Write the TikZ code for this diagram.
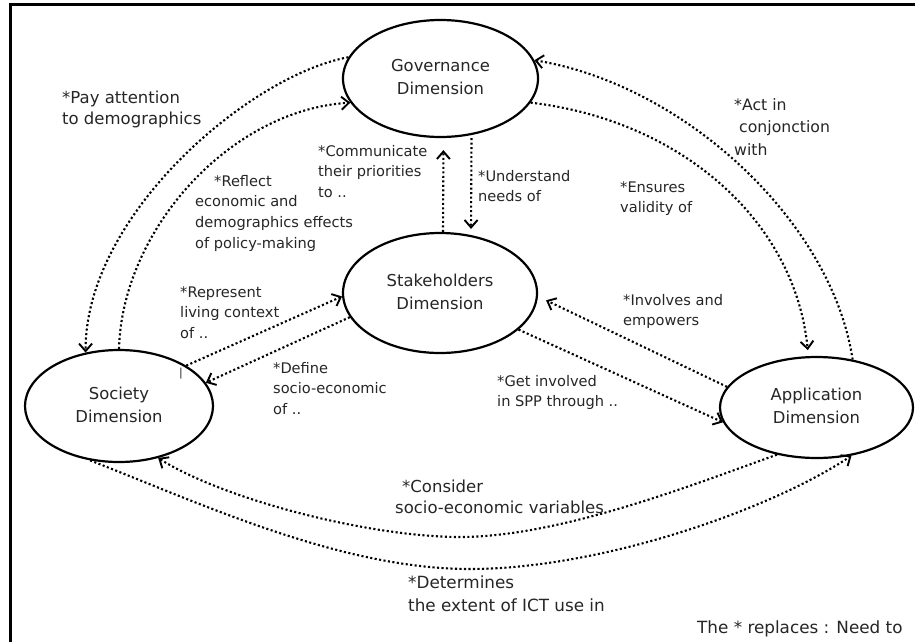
\documentclass[tikz,border=0pt]{standalone}
\usepackage{fontspec}
\setmainfont{DejaVu Sans}
\usetikzlibrary{arrows.meta, shapes.geometric}

\definecolor{txt}{HTML}{262626}

% multi-line labels: baseline of the node is the baseline of the first line
\newcommand\txtlines[1]{\begin{tabular}[t]{@{}l@{}}#1\end{tabular}}
\newcommand\dimtext[1]{\raisebox{-4.5pt}{\begin{tabular}{@{}c@{}}#1\end{tabular}}}

\begin{document}
\begin{tikzpicture}[x=1pt, y=-1pt,
  dim/.style={ellipse, draw=black, line width=2.2pt, inner sep=0pt,
    text=txt, font=\fontsize{16.4}{23}\selectfont},
  lbl/.style={inner sep=0pt, anchor=base west, text=txt},
  big/.style={lbl, font=\fontsize{16.5}{21.5}\selectfont},
  mid/.style={lbl, font=\fontsize{14.6}{20.8}\selectfont},
  flow/.style={line width=2.1pt, dash pattern=on 2.1pt off 2.4pt,
    -{Straight Barb[length=7.5pt,width=13pt,line width=1.9pt]}},
]
\useasboundingbox (0,0) rectangle (915,642);
\fill[white] (0,0) rectangle (915,642);

% outer frame (top and left edges)
\draw[line width=2.8pt, line join=miter] (10.3,646) -- (10.3,4.3) -- (919,4.3);

% the four dimensions
\node[dim, minimum width=195pt, minimum height=117pt] (gov) at (440.5,78.5)
  {\dimtext{Governance\\Dimension}};
\node[dim, minimum width=194pt, minimum height=120pt] (stk) at (440,293)
  {\dimtext{Stakeholders\\Dimension}};
\node[dim, minimum width=188pt, minimum height=112pt] (soc) at (119,406)
  {\dimtext{Society\\Dimension}};
\node[dim, minimum width=193pt, minimum height=101pt] (app) at (816.5,407.5)
  {\dimtext{Application\\Dimension}};

% governance <-> society
\draw[flow] (gov.167.5) .. controls (250,75) and (85,215) .. (soc.122.7);
\draw[flow] (soc.north) .. controls (122,230) and (230,110) .. (gov.195.8);

% governance <-> stakeholders
\draw[flow, shorten >=12pt] ([xshift=3pt]stk.north) -- ([xshift=3pt]gov.south);
\draw[flow, shorten >=3pt] ([xshift=31pt]gov.south) -- ([xshift=31pt]stk.north);

% governance <-> application
\draw[flow] (app.53.6) .. controls (832,222) and (685,85) .. (gov.11.6);
\draw[flow, shorten >=6pt] (gov.345) .. controls (680,120) and (795,220) .. (app.99.4);

% stakeholders <-> application
\draw[flow, shorten >=9pt] (app.167.4) -- (stk.358);
\draw[flow] (stk.335) -- (app.189.4);

% society <-> stakeholders
\draw[flow] (soc.31.8) -- (stk.182);
\draw[flow] (stk.195) -- (soc.15.5);

% society <-> application (lower arcs)
\coordinate (dipA) at (460,537);
\coordinate (dipB) at (470,569);
\draw[flow] (app.230) .. controls (695,484) and (560,537) .. (dipA)
  .. controls (370,537) and (225,500) .. (soc.307);
\draw[flow] (soc.242.6) .. controls (200,503) and (340,569) .. (dipB)
  .. controls (600,569) and (770,510) .. (app.306.8);

% connector labels
\node[big] (lpay) at (62,103) {\txtlines{*Pay attention\\to demographics}};
\node[mid] (lrefl) at (195,186)
  {\txtlines{\hspace*{19pt}*Reflect\\economic and\\demographics effects\\of policy-making}};
\node[mid] (lcomm) at (318,156) {\txtlines{*Communicate\\their priorities\\to ..}};
\node[mid] (lund) at (478,181) {\txtlines{*Understand\\needs of}};
\node[mid] (lens) at (620,192) {\txtlines{*Ensures\\validity of}};
\node[lbl, font=\fontsize{15.7}{22.5}\selectfont] (lact) at (734,110)
  {\txtlines{*Act in\\\hspace*{5pt}conjonction\\with}};
\node[mid] (linv) at (623,305) {\txtlines{*Involves and\\empowers}};
\node[mid] (lget) at (497,386) {\txtlines{*Get involved\\in SPP through ..}};
\node[mid] (lrep) at (180,297) {\txtlines{*Represent\\living context\\of ..}};
\node[mid] (ldef) at (273,373) {\txtlines{*Define\\socio-economic\\of ..}};
\node[big] (lcons) at (395,492) {\txtlines{\hspace*{7pt}*Consider\\socio-economic variables}};
\node[lbl, font=\fontsize{16.8}{23}\selectfont] (ldet) at (408,588)
  {\txtlines{*Determines\\the extent of ICT use in}};
\node[lbl, font=\fontsize{16.8}{20}\selectfont] (lnote) at (697,633) {The * replaces : Need to};
\node[text=txt, inner sep=0pt, font=\fontsize{11}{11}\selectfont] (mark) at (181,374) {|};
\end{tikzpicture}
\end{document}
